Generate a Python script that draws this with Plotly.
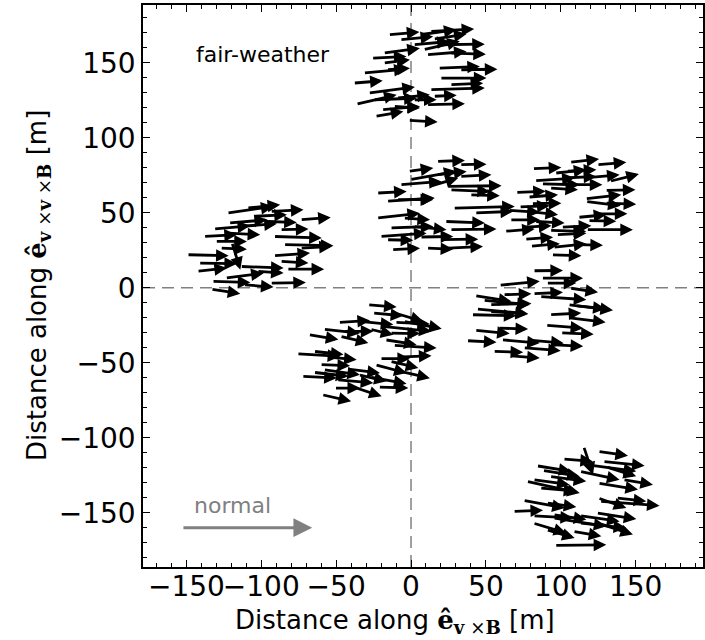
import plotly.graph_objects as go

# ---- antenna positions (tail x, tail y) and field vectors (u, v), metres ----
station_top = [
    (-15.1, 168.7, 20.7, 1.8), (6.0, 168.7, 24.4, 3.3), (12.6, 170.9, 29.6, 1.6),
    (-7.4, 165.3, 22.2, 2.2), (14.9, 165.8, 22.2, 3.3), (1.5, 162.0, 24.4, 2.2),
    (-18.5, 156.4, 24.4, 3.3), (8.2, 158.7, 24.4, 5.6), (17.1, 162.0, 32.2, 0.4),
    (10.4, 155.3, 26.7, 2.2), (26.0, 156.4, 24.0, -0.7), (-26.3, 153.1, 23.3, 1.1),
    (-18.5, 149.8, 17.8, 2.2), (-16.3, 145.3, 15.6, 1.1), (-31.8, 143.1, 28.9, 2.7),
    (18.2, 146.4, 27.8, 1.1), (32.6, 145.3, 25.1, 0.4), (19.3, 139.8, 31.1, 0.0),
    (-38.5, 136.4, 19.6, 1.6), (12.6, 132.0, 36.7, 1.1), (26.0, 135.3, 22.2, 1.1),
    (-28.5, 129.8, 31.1, 4.0), (-36.7, 122.4, 27.1, 6.2), (-9.6, 126.4, 22.2, 2.2),
    (-25.1, 125.3, 28.9, 1.1), (1.5, 125.3, 15.6, 0.0), (10.4, 122.0, 25.6, 0.7),
    (-19.6, 118.7, 25.6, 2.2), (-24.0, 114.2, 18.9, 3.3), (-11.8, 120.9, 17.8, -1.1),
    (14.9, 127.6, 15.6, 0.7), (-1.8, 111.6, 19.6, -1.1),
]
station_left = [
    (-122.9, 49.8, 31.1, 4.4), (-109.6, 53.1, 22.2, 2.2), (-94.0, 50.9, 22.2, 1.1),
    (-105.1, 47.6, 22.2, 1.1), (-74.0, 45.3, 20.4, 1.6), (-121.8, 43.1, 25.6, 2.2),
    (-96.3, 44.2, 20.0, -0.7), (-131.8, 39.1, 24.4, 2.2), (-114.0, 40.9, 24.4, 1.8),
    (-87.4, 38.7, 18.9, 0.4), (-138.5, 34.2, 22.2, 1.1), (-122.9, 36.4, 22.2, -1.1),
    (-91.8, 34.2, 32.2, -1.1), (-130.7, 30.9, 21.1, 0.0), (-85.1, 28.7, 33.3, -0.7),
    (-119.6, 30.2, 5.6, -18.2), (-127.4, 26.4, 17.8, -0.7), (-149.6, 22.0, 27.8, -0.7),
    (-91.8, 21.3, 24.4, 1.8), (-141.8, 16.4, 25.6, -0.4), (-87.4, 17.6, 18.9, -1.1),
    (-114.0, 14.2, 28.9, -1.1), (-142.9, 10.9, 20.0, 2.2), (-82.9, 12.4, 24.9, 0.0),
    (-124.0, 6.4, 25.6, 3.3), (-102.9, 10.9, 17.8, -1.1), (-132.9, 4.2, 25.6, -0.7),
    (-111.8, 2.0, 20.0, -1.6), (-94.0, 3.1, 23.8, 0.4), (-133.6, -0.9, 19.6, -3.1),
    (-74.0, 26.4, 21.1, 1.1),
]
station_centre = [
    (17.1, 84.2, 18.9, 0.7), (32.6, 82.0, 17.8, 0.4), (-1.8, 77.6, 16.7, 2.2),
    (-0.7, 72.0, 31.1, 5.6), (17.1, 75.3, 20.0, 2.2), (32.6, 74.2, 21.1, 1.1),
    (-7.4, 68.7, 27.8, 2.2), (12.6, 67.6, 18.9, 5.6), (23.8, 67.6, 36.7, 0.4),
    (26.0, 65.3, 26.7, -1.1), (-22.9, 63.1, 20.0, 1.1), (39.3, 62.0, 20.0, -0.7),
    (-16.3, 57.6, 32.2, 2.2), (-9.6, 58.7, 24.4, 0.0), (28.2, 53.1, 41.1, 1.1),
    (42.6, 49.8, 25.6, 1.1), (-22.9, 46.4, 28.9, 3.3), (-5.1, 46.4, 17.8, -1.1),
    (22.6, 44.2, 26.7, -1.1), (-14.0, 39.8, 28.9, 1.1), (1.5, 40.9, 22.2, -2.2),
    (26.0, 38.7, 31.1, 0.4), (-20.7, 34.2, 31.1, 2.2), (6.0, 33.8, 22.2, 0.4),
    (19.3, 32.0, 25.6, 0.4), (-12.9, 25.3, 18.9, 1.1), (10.4, 26.4, 17.8, -0.7),
    (23.7, 26.4, 24.4, 1.1), (-16.3, 32.0, 17.8, -0.4),
]
station_right = [
    (106.0, 83.6, 19.6, 2.2), (124.2, 82.0, 19.6, 1.6), (81.1, 79.3, 19.3, 0.9),
    (96.0, 76.4, 21.1, 2.2), (103.8, 77.6, 20.0, 1.1), (82.6, 71.3, 26.7, 1.8),
    (100.4, 73.1, 23.3, 1.1), (114.9, 73.1, 24.4, 2.2), (132.6, 70.9, 19.6, 4.9),
    (87.1, 69.3, 25.6, -0.7), (92.6, 66.4, 18.9, -1.1), (108.2, 68.7, 19.6, 0.0),
    (129.7, 64.9, 20.2, 0.4), (70.0, 63.6, 20.0, 0.7), (78.2, 60.4, 20.0, 1.6),
    (116.4, 59.3, 24.0, 2.7), (116.7, 57.6, 23.3, -2.9), (129.7, 56.4, 20.7, -0.7),
    (80.4, 56.0, 20.0, 0.4), (72.2, 53.8, 20.4, 0.9), (64.9, 51.6, 21.1, -1.3),
    (78.2, 50.9, 20.0, -2.2), (124.9, 49.3, 19.6, 0.0), (111.5, 46.9, 18.9, 1.8),
    (66.0, 45.3, 20.0, 0.0), (118.2, 44.7, 18.9, -0.4), (82.6, 44.2, 20.0, -1.1),
    (74.9, 40.4, 18.9, 0.9), (100.4, 40.4, 20.0, 0.9), (92.6, 38.2, 24.4, -0.7),
    (62.6, 37.6, 20.0, 1.6), (117.1, 38.7, 31.1, 0.0), (97.1, 35.3, 20.0, 1.1),
    (76.0, 32.4, 18.9, 1.3), (94.9, 26.9, 22.2, 2.4), (109.3, 28.7, 18.9, -0.4),
    (79.8, 27.6, 19.6, 1.8), (93.8, 22.0, 20.0, -0.7),
]
station_mid_right = [
    (81.5, 11.3, 20.0, 0.2), (87.1, 6.4, 27.8, 0.0), (58.9, 1.6, 27.1, 2.7),
    (90.4, 3.1, 20.0, 0.0), (106.0, -0.2, 18.9, -2.9), (61.5, -4.7, 18.9, 0.7),
    (81.5, -4.0, 20.0, 0.9), (42.6, -5.3, 24.4, -3.8), (86.0, -5.8, 31.1, -2.2),
    (52.6, -11.3, 27.8, 0.7), (104.9, -11.3, 30.0, -3.8), (43.7, -14.2, 34.4, -3.1),
    (92.6, -18.0, 21.1, 1.1), (48.2, -8.4, 31.1, -2.9), (52.6, -15.8, 25.6, -1.8),
    (40.4, -18.0, 30.0, -0.7), (42.6, -28.4, 23.3, -2.2), (58.2, -26.9, 20.0, -0.7),
    (37.1, -35.3, 20.0, -1.1), (60.4, -34.7, 25.6, -2.2), (54.9, -42.4, 20.0, -0.7),
    (66.0, -45.3, 20.0, -1.6), (90.0, -25.0, 25.0, -2.0), (100.0, -30.0, 22.0, -1.0),
    (105.0, -20.0, 25.0, -3.0), (80.0, -35.0, 22.0, -2.0), (95.0, -38.0, 20.0, -1.0),
    (75.0, -40.0, 25.0, -2.0), (110.0, -12.0, 20.0, -2.0),
]
station_low_left = [
    (-28.9, -11.3, 19.3, -1.6), (-25.6, -16.9, 20.4, -1.8), (-10.7, -16.9, 18.9, -5.6),
    (-48.5, -23.1, 21.1, 1.3), (-35.1, -22.4, 23.3, -2.2), (-10.7, -23.1, 23.3, -1.1),
    (-5.1, -22.4, 25.6, -4.9), (-58.5, -27.6, 24.4, -2.7), (-45.1, -29.1, 20.0, 0.0),
    (-27.4, -27.6, 15.6, -3.8), (-18.5, -25.8, 32.2, -3.3), (-14.0, -30.2, 20.0, -0.4),
    (-68.5, -31.3, 20.0, -3.3), (-47.4, -32.4, 18.9, -4.4), (-17.4, -34.7, 21.1, -3.3),
    (-11.8, -38.4, 28.9, -1.8), (-76.2, -44.0, 28.9, -1.8), (-65.1, -42.4, 20.0, -2.2),
    (-56.3, -46.2, 20.0, -1.8), (-20.7, -47.3, 20.0, 0.0), (-6.3, -46.2, 20.0, 0.9),
    (-14.0, -49.1, 18.9, -4.4), (-60.7, -51.3, 20.0, -0.7), (-24.0, -51.3, 21.1, -5.6),
    (-58.5, -54.7, 24.4, -3.3), (-42.9, -54.2, 22.2, -2.7), (-11.8, -54.7, 24.4, -5.6),
    (-72.9, -59.1, 23.3, -1.1), (-65.1, -56.4, 23.3, -2.7), (-35.1, -58.0, 18.9, -4.4),
    (-27.4, -59.6, 24.4, -4.4), (-49.6, -61.3, 24.4, -2.2), (-21.8, -66.2, 20.0, -0.7),
    (-51.1, -66.9, 17.1, 0.0), (-38.5, -66.2, 18.9, -6.2), (-59.6, -71.3, 19.6, -4.4),
]
station_bottom = [
    (115.3, -105.8, 6.2, -18.9), (124.9, -109.1, 20.0, -2.9), (101.5, -114.2, 20.0, -1.6),
    (128.2, -115.8, 27.8, -2.9), (83.8, -118.7, 23.3, -3.8), (117.1, -118.0, 33.3, -4.4),
    (130.4, -119.5, 20.0, -6.2), (87.8, -121.8, 24.9, -4.0), (112.6, -122.4, 26.7, -5.6),
    (92.6, -125.8, 24.4, -3.3), (81.5, -128.0, 24.4, -3.3), (141.6, -128.0, 20.0, -3.3),
    (77.1, -129.1, 35.6, -7.8), (124.9, -130.2, 26.7, -4.4), (86.0, -133.5, 24.4, -2.2),
    (124.9, -140.2, 18.9, -6.7), (137.1, -140.2, 20.0, -2.2), (126.0, -142.4, 40.0, -2.9),
    (74.9, -141.8, 27.8, -5.1), (90.4, -143.5, 20.0, -2.7), (68.2, -149.1, 20.0, 0.7),
    (123.8, -150.2, 26.7, -4.0), (81.5, -152.0, 26.7, -1.6), (94.9, -151.3, 22.2, -3.3),
    (112.6, -152.0, 26.7, -3.8), (94.9, -153.5, 35.6, -5.6), (81.5, -156.9, 22.2, -6.7),
    (126.0, -157.3, 22.2, -7.3), (90.4, -161.3, 18.9, -5.6), (108.2, -162.4, 18.9, -3.3),
    (96.0, -171.8, 34.4, 0.4), (112.6, -156.9, 31.1, -3.3),
]
stations = [station_top, station_left, station_centre, station_right,
            station_mid_right, station_low_left, station_bottom]

# reference ("normal") arrow and labels
normal_arrow = (-153.0, -160.0, 87.0, 0.0)
normal_label = "normal"
normal_label_pos = (-119.0, -145.0)
panel_label = "fair-weather"
panel_label_pos = (-145.0, 155.5)

x_range = [-179.0, 195.0]
y_range = [-186.2, 188.5]
tick_vals = [-150, -100, -50, 0, 50, 100, 150]

FONT = "DejaVu Sans"

fig = go.Figure()
# dashed origin lines
fig.add_trace(go.Scatter(x=[0, 0], y=y_range, mode="lines",
                         line=dict(color="#808080", width=1.5, dash="12px,7px"),
                         hoverinfo="skip"))
fig.add_trace(go.Scatter(x=x_range, y=[0, 0], mode="lines",
                         line=dict(color="#808080", width=1.5, dash="12px,7px"),
                         hoverinfo="skip"))

annotations = []
for st in stations:
    for (x0, y0, u, v) in st:
        annotations.append(dict(
            x=x0 + u, y=y0 + v, ax=x0, ay=y0,
            xref="x", yref="y", axref="x", ayref="y",
            text="", showarrow=True, arrowhead=2, arrowsize=0.9,
            arrowwidth=2.8, arrowcolor="black", standoff=0, startstandoff=0))

nx, ny, nu, nv = normal_arrow
annotations.append(dict(
    x=nx + nu, y=ny + nv, ax=nx, ay=ny,
    xref="x", yref="y", axref="x", ayref="y",
    text="", showarrow=True, arrowhead=2, arrowsize=1.25,
    arrowwidth=3, arrowcolor="#808080"))
annotations.append(dict(
    x=normal_label_pos[0], y=normal_label_pos[1], xref="x", yref="y",
    text=normal_label, showarrow=False,
    font=dict(family=FONT, size=22, color="#808080")))
annotations.append(dict(
    x=panel_label_pos[0], y=panel_label_pos[1], xref="x", yref="y",
    xanchor="left", text=panel_label, showarrow=False,
    font=dict(family=FONT, size=22, color="black")))

xtitle = ('Distance along <span style="font-family:\'DejaVu Serif\'"><b>ê</b>'
          '<sub><b>v</b> ×<b>B</b></sub></span> [m]')
ytitle = ('Distance along <span style="font-family:\'DejaVu Serif\'"><b>ê</b>'
          '<sub><b>v</b> ×<b>v</b> ×<b>B</b></sub></span> [m]')
annotations.append(dict(
    x=0.45, y=-0.097, xref="paper", yref="paper", xanchor="center",
    yanchor="middle", text=xtitle, showarrow=False,
    font=dict(family=FONT, size=26, color="black")))
annotations.append(dict(
    x=-0.1875, y=0.5, xref="paper", yref="paper", xanchor="center",
    yanchor="middle", text=ytitle, showarrow=False, textangle=-90,
    font=dict(family=FONT, size=26, color="black")))

axis_common = dict(
    tickvals=tick_vals, ticks="inside", ticklen=7, tickwidth=1,
    tickcolor="black", showline=True, linecolor="black", linewidth=1.5,
    mirror="ticks", showgrid=False, zeroline=False,
    tickfont=dict(family=FONT, size=28, color="black"),
    minor=dict(dtick=10, tick0=0, ticks="inside", ticklen=4,
               tickcolor="black", tickwidth=1, showgrid=False),
    automargin=False,
)

fig.update_layout(
    width=705, height=640,
    margin=dict(l=143, r=2, t=5, b=73),
    paper_bgcolor="white", plot_bgcolor="white",
    showlegend=False,
    annotations=annotations,
    xaxis=dict(range=x_range, tickangle=0, ticklabelstandoff=-6, **axis_common),
    yaxis=dict(range=y_range, **axis_common),
)

fig.write_html("out.html")
